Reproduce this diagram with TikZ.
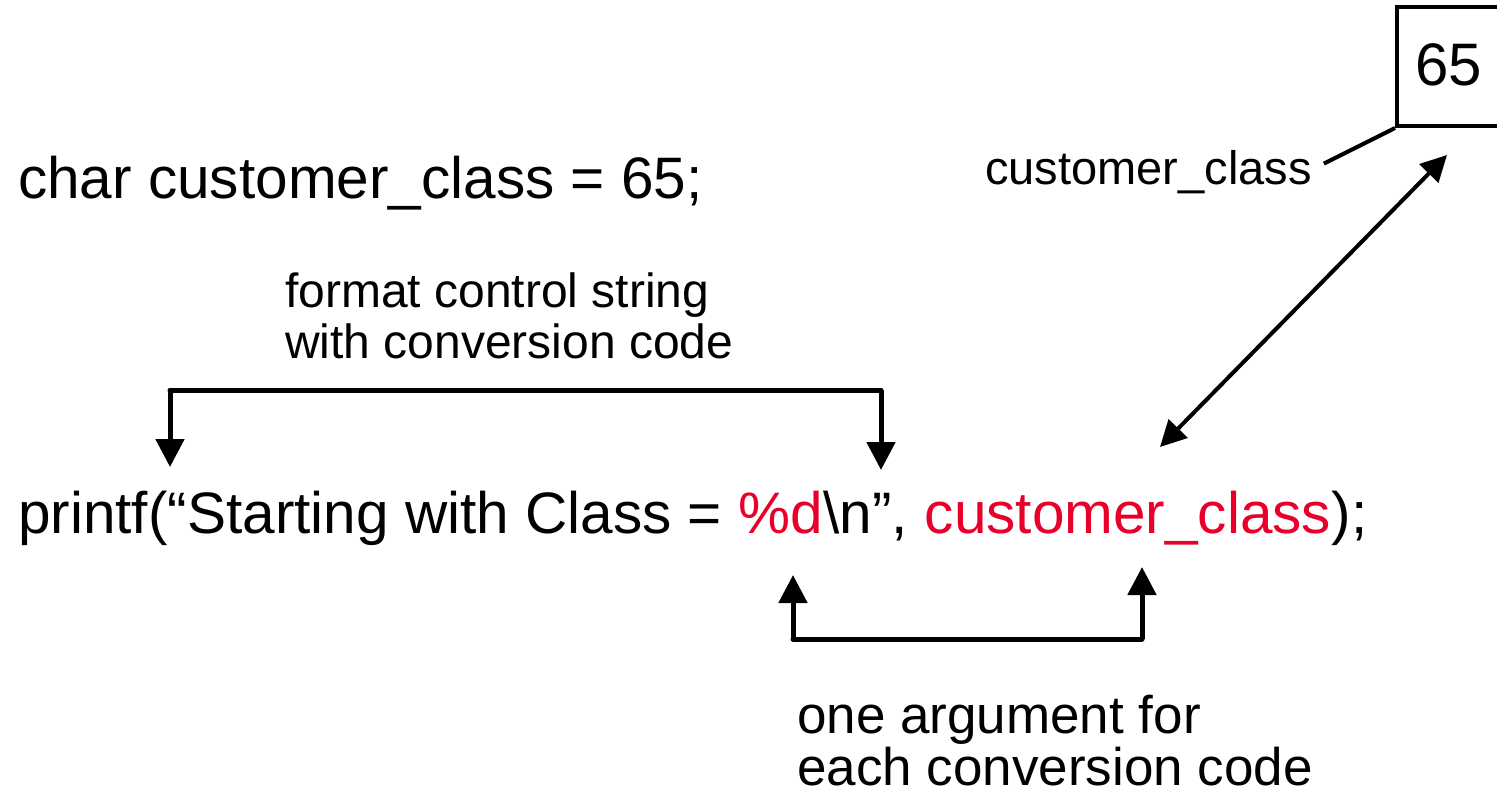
\documentclass[tikz,border=0pt]{standalone}
\usepackage{fontspec}
\setmainfont{Liberation Sans}
\usetikzlibrary{arrows.meta,calc}
\definecolor{codered}{RGB}{232,0,42}
\begin{document}
\begin{tikzpicture}[x=1pt,y=-1pt,
  txt/.style={inner sep=0pt,anchor=base west,font=\fontsize{58.5}{60}\selectfont},
  lbl/.style={inner sep=0pt,anchor=base west},
  conn/.style={line width=5pt,-{Triangle[length=28pt,width=28pt]}},
  conn2/.style={line width=4pt,{Triangle[length=26pt,width=26pt]}-{Triangle[length=26pt,width=26pt]}},
  red/.style={text=codered}]
\useasboundingbox (0,0) rectangle (1497,795);
% declaration
\node[txt] (decl) at (18,198) {char customer\_class = 65;};
% printf line
\node[txt] (p1) at (18,533) {printf(“Starting with Class = \mbox{}};
\node[txt,red] (p2) at (p1.base east) {\%d};
\node[txt] (p3) at (p2.base east) {\textbackslash n”, \mbox{}};
\node[txt,red] (p4) at (p3.base east) {customer\_class};
\node[txt] (p5) at (p4.base east) {);};
% labels
\node[lbl,font=\fontsize{48}{52}\selectfont] (fmt1) at (285,307) {format control string};
\node[lbl,font=\fontsize{48}{52}\selectfont] (fmt2) at (285,358) {with conversion code};
\node[lbl,font=\fontsize{53}{53}\selectfont] (arg1) at (797,733) {one argument for};
\node[lbl,font=\fontsize{53}{53}\selectfont] (arg2) at (797,785) {each conversion code};
\node[lbl,font=\fontsize{47}{48}\selectfont] (cc) at (985,184) {customer\_class};
% box
\node[draw,line width=4pt,minimum width=108pt,minimum height=119pt,inner sep=0pt] (box) at (1451,66.5) {};
\node[inner sep=0pt,anchor=base west,font=\fontsize{60}{60}\selectfont] (v65) at (1415,85) {65};
% connectors
\coordinate (t1) at (170,467);
\coordinate (t2) at (881,470);
\coordinate (b1) at (793,575);
\coordinate (b2) at (1142,567);
\draw[conn] ($(t1)+(0,-77)$) coordinate (tl) -- (t1);
\draw[line width=5pt,line cap=round] (tl) -- ($(t2)+(0,-80)$) coordinate (tr);
\draw[conn] (tr) -- (t2);
\draw[conn] (b1 |- 0,639) coordinate (bl) -- (b1);
\draw[line width=5pt,line cap=round] (bl) -- (b2 |- 0,639) coordinate (br);
\draw[conn] (br) -- (b2);
\coordinate (d1) at (1160,447);
\coordinate (d2) at (1447,155);
\draw[conn2] (d1) -- (d2);
\draw[line width=4pt] ($(cc.east)+(12,-8)$) -- (box.south west);
\end{tikzpicture}
\end{document}
